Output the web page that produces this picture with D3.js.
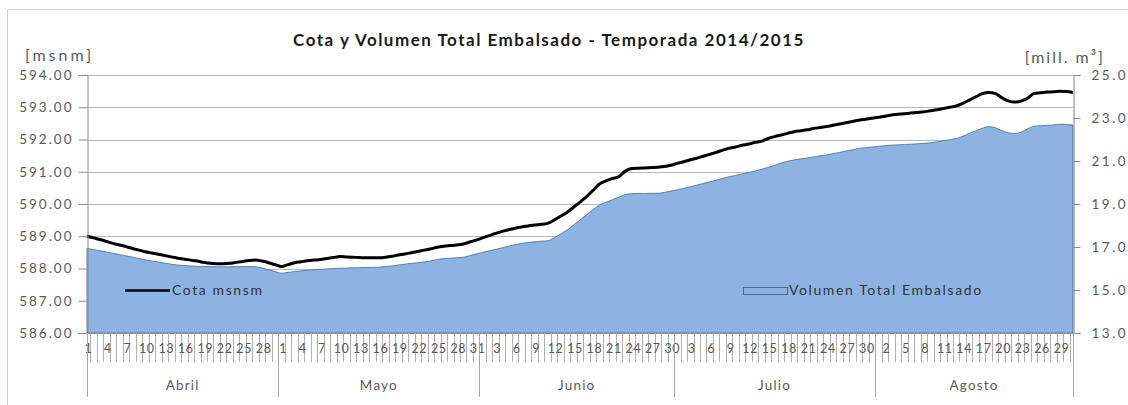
<!DOCTYPE html>
<html>
<head>
<meta charset="utf-8">
<script src="https://cdn.jsdelivr.net/npm/d3@7"></script>
<style>
	body { margin: 0; background: #fff; }
	text { font-family: Lato, "Open Sans", sans-serif; fill: #595959; }
</style>
</head>
<body>
<div id="chart"></div>
<script>

// months shown on the lower category row
var months= ["Abril", "Mayo", "Junio", "Julio", "Agosto"];
var month_days= [30, 31, 30, 31, 31];

// cota (msnm), one value per day, 1 abril .. 31 agosto
var cota= [
	589.01, 588.95, 588.90, 588.84, 588.78, 588.73, 588.68, 588.62, 588.57, 588.52,
	588.48, 588.44, 588.40, 588.36, 588.32, 588.29, 588.26, 588.23, 588.19, 588.16,
	588.15, 588.15, 588.16, 588.19, 588.22, 588.25, 588.26, 588.23, 588.18, 588.12,
	// mayo
	588.06, 588.12, 588.18, 588.21, 588.24, 588.26, 588.28, 588.31, 588.34, 588.37,
	588.36, 588.35, 588.34, 588.33, 588.33, 588.33, 588.35, 588.38, 588.42, 588.45,
	588.49, 588.53, 588.57, 588.61, 588.66, 588.69, 588.71, 588.73, 588.76, 588.82, 588.88,
	// junio
	588.95, 589.02, 589.09, 589.15, 589.20, 589.25, 589.29, 589.32, 589.35, 589.37,
	589.40, 589.50, 589.62, 589.74, 589.90, 590.06, 590.23, 590.42, 590.62, 590.72,
	590.79, 590.85, 591.02, 591.10, 591.11, 591.12, 591.13, 591.14, 591.16, 591.20,
	// julio
	591.26, 591.31, 591.37, 591.42, 591.48, 591.54, 591.60, 591.67, 591.73, 591.77,
	591.82, 591.86, 591.91, 591.95, 592.03, 592.09, 592.14, 592.19, 592.24, 592.27,
	592.30, 592.34, 592.37, 592.40, 592.44, 592.48, 592.52, 592.56, 592.60, 592.63, 592.66,
	// agosto
	592.69, 592.72, 592.76, 592.78, 592.80, 592.82, 592.84, 592.86, 592.89, 592.92,
	592.96, 593.00, 593.04, 593.12, 593.22, 593.32, 593.42, 593.46, 593.43, 593.30,
	593.20, 593.16, 593.19, 593.28, 593.43, 593.45, 593.47, 593.48, 593.50, 593.49, 593.46
];

// volumen total embalsado (mill. m3)
var volumen= [
	16.94, 16.88, 16.82, 16.77, 16.71, 16.65, 16.59, 16.53, 16.46, 16.40,
	16.35, 16.30, 16.25, 16.20, 16.16, 16.14, 16.12, 16.10, 16.09, 16.09,
	16.08, 16.08, 16.08, 16.09, 16.09, 16.09, 16.08, 16.02, 15.94, 15.86,
	// mayo
	15.78, 15.82, 15.86, 15.89, 15.92, 15.94, 15.96, 15.98, 16.00, 16.01,
	16.02, 16.03, 16.04, 16.05, 16.05, 16.06, 16.09, 16.12, 16.16, 16.20,
	16.24, 16.27, 16.31, 16.35, 16.42, 16.46, 16.48, 16.50, 16.52, 16.60, 16.68,
	// junio
	16.75, 16.82, 16.89, 16.96, 17.04, 17.11, 17.17, 17.21, 17.24, 17.27,
	17.29, 17.42, 17.60, 17.79, 18.02, 18.26, 18.50, 18.73, 18.95, 19.08,
	19.20, 19.32, 19.44, 19.48, 19.49, 19.49, 19.50, 19.50, 19.54, 19.60,
	// julio
	19.66, 19.73, 19.80, 19.88, 19.95, 20.03, 20.11, 20.19, 20.27, 20.33,
	20.40, 20.46, 20.53, 20.62, 20.70, 20.80, 20.91, 20.99, 21.05, 21.10,
	21.14, 21.19, 21.24, 21.28, 21.34, 21.40, 21.46, 21.52, 21.59, 21.62, 21.65,
	// agosto
	21.68, 21.71, 21.74, 21.75, 21.77, 21.78, 21.80, 21.82, 21.85, 21.89,
	21.94, 21.99, 22.05, 22.15, 22.28, 22.40, 22.52, 22.60, 22.55, 22.42,
	22.31, 22.28, 22.34, 22.50, 22.62, 22.64, 22.66, 22.68, 22.71, 22.70, 22.67
];

var left_ticks= [586, 587, 588, 589, 590, 591, 592, 593, 594];
var right_ticks= [13, 15, 17, 19, 21, 23, 25];

var width= 1128;
var height= 405;

var x0= 87, x1= 1073;
var y_top= 75, y_bot= 333;

// day number of every category
var days= [];
var month_start= [];
for (var m= 0; m< months.length; m++) {
	month_start.push(days.length);
	for (var d= 1; d<= month_days[m]; d++) days.push(d);
}

var svg= d3.select("#chart")
	.append("svg")
	.attr("width", width)
	.attr("height", height);

// outer chart frame
svg.append("rect")
	.attr("x", 7.5).attr("y", 9.5)
	.attr("width", 1130).attr("height", 420)
	.attr("fill", "#fff")
	.attr("stroke", "#d0d0d0");

var x= d3.scalePoint()
	.domain(d3.range(days.length))
	.range([x0, x1]);
var step= x.step();

var y_left= d3.scaleLinear().domain([586, 594]).range([y_bot, y_top]);
var y_right= d3.scaleLinear().domain([13, 25]).range([y_bot, y_top]);

// gridlines
svg.append("g")
	.selectAll("line")
	.data(left_ticks)
	.enter().append("line")
		.attr("x1", x0).attr("x2", x1)
		.attr("y1", function(d) { return Math.round(y_left(d))+ 0.5; })
		.attr("y2", function(d) { return Math.round(y_left(d))+ 0.5; })
		.attr("stroke", "#b8b8b8");

// volumen area
var area= d3.area()
	.x(function(d, i) { return x(i); })
	.y0(y_right(13))
	.y1(function(d) { return y_right(d); })
	.curve(d3.curveMonotoneX);

svg.append("path")
	.datum(volumen)
	.attr("d", area)
	.attr("fill", "#8db3e2")
	.attr("stroke", "#4a6a94")
	.attr("stroke-width", 0.8);

// cota line
var line= d3.line()
	.x(function(d, i) { return x(i); })
	.y(function(d) { return y_left(d); })
	.curve(d3.curveMonotoneX);

svg.append("path")
	.datum(cota)
	.attr("d", line)
	.attr("fill", "none")
	.attr("stroke", "#000")
	.attr("stroke-width", 3)
	.attr("stroke-linejoin", "round");

// left axis
var ax_left= svg.append("g")
	.attr("transform", "translate(" + (x0+ 0.5) + ",0)")
	.call(d3.axisLeft(y_left).tickValues(left_ticks).tickSize(9).tickPadding(5)
		.tickFormat(d3.format(".2f")));
ax_left.select(".domain").attr("stroke", "#8c8c8c");
ax_left.selectAll(".tick line").attr("stroke", "#8c8c8c");
ax_left.selectAll("text")
	.attr("font-size", 13.5)
	.attr("letter-spacing", 2)
	.style("font-family", "Lato")
	.attr("fill", "#595959");

// right axis
var ax_right= svg.append("g")
	.attr("transform", "translate(" + (x1+ 0.5) + ",0)")
	.call(d3.axisRight(y_right).tickValues(right_ticks).tickSize(7).tickPadding(11)
		.tickFormat(d3.format(".1f")));
ax_right.select(".domain").attr("stroke", "#7f7f7f");
ax_right.selectAll(".tick line").attr("stroke", "#8c8c8c");
ax_right.selectAll("text")
	.attr("font-size", 13.5)
	.attr("letter-spacing", 2.5)
	.style("font-family", "Lato")
	.attr("fill", "#595959");

// category axis
svg.append("line")
	.attr("x1", x0).attr("x2", x1)
	.attr("y1", y_bot+ 0.5).attr("y2", y_bot+ 0.5)
	.attr("stroke", "#8c8c8c");

var bounds= d3.range(days.length+ 1).map(function(i) {
	return Math.min(x1, Math.max(x0, x0+ (i- 0.5)* step));
});

svg.append("g")
	.selectAll("line")
	.data(bounds)
	.enter().append("line")
		.attr("x1", function(d) { return Math.round(d)+ 0.5; })
		.attr("x2", function(d) { return Math.round(d)+ 0.5; })
		.attr("y1", y_bot)
		.attr("y2", y_bot+ 29)
		.attr("stroke", "#b0b0b0");

svg.append("g")
	.selectAll("text")
	.data(days.map(function(d, i) { return {d: d, i: i}; }).filter(function(o) { return o.i% 3== 0; }))
	.enter().append("text")
		.attr("x", function(o) { return x(o.i)+ 1.5; })
		.attr("y", y_bot+ 20)
		.attr("text-anchor", "middle")
		.attr("font-size", 12.5)
		.attr("letter-spacing", 0.6)
		.text(function(o) { return o.d; });

// month separators and names
var month_edges= month_start.concat([days.length]).map(function(i) {
	return Math.min(x1, Math.max(x0, x0+ (i- 0.5)* step));
});

svg.append("g")
	.selectAll("line")
	.data(month_edges)
	.enter().append("line")
		.attr("x1", function(d) { return Math.round(d)+ 0.5; })
		.attr("x2", function(d) { return Math.round(d)+ 0.5; })
		.attr("y1", y_bot)
		.attr("y2", y_bot+ 64)
		.attr("stroke", "#a6a6a6");

svg.append("g")
	.selectAll("text")
	.data(months)
	.enter().append("text")
		.attr("x", function(d, i) { return (month_edges[i]+ month_edges[i+ 1])/ 2; })
		.attr("y", y_bot+ 57)
		.attr("text-anchor", "middle")
		.attr("font-size", 13.5)
		.attr("letter-spacing", 1.2)
		.text(function(d) { return d; });

// title and axis units
svg.append("text")
	.attr("x", 549).attr("y", 46)
	.attr("text-anchor", "middle")
	.attr("font-size", 17)
	.attr("font-weight", "bold")
	.attr("letter-spacing", 1.5)
	.style("fill", "#1a1a1a")
	.text("Cota y Volumen Total Embalsado - Temporada 2014/2015");

svg.append("text")
	.attr("x", 25).attr("y", 61)
	.attr("font-size", 16)
	.attr("letter-spacing", 3)
	.text("[msnm]");

svg.append("text")
	.attr("x", 1105).attr("y", 63)
	.attr("text-anchor", "end")
	.attr("font-size", 16)
	.attr("letter-spacing", 2)
	.text("[mill. m\u00b3]");

// legend
svg.append("line")
	.attr("x1", 125).attr("x2", 170)
	.attr("y1", 290.5).attr("y2", 290.5)
	.attr("stroke", "#000")
	.attr("stroke-width", 2.5);
svg.append("text")
	.attr("x", 172).attr("y", 295)
	.attr("font-size", 14)
	.attr("letter-spacing", 1.6)
	.style("fill", "#333")
	.text("Cota msnsm");

svg.append("rect")
	.attr("x", 743.5).attr("y", 287.5)
	.attr("width", 44).attr("height", 7)
	.attr("fill", "#8db3e2")
	.attr("stroke", "#4a6a94");
svg.append("text")
	.attr("x", 789).attr("y", 295)
	.attr("font-size", 14)
	.attr("letter-spacing", 1.6)
	.style("fill", "#333")
	.text("Volumen Total Embalsado");

</script>
</body>
</html>
